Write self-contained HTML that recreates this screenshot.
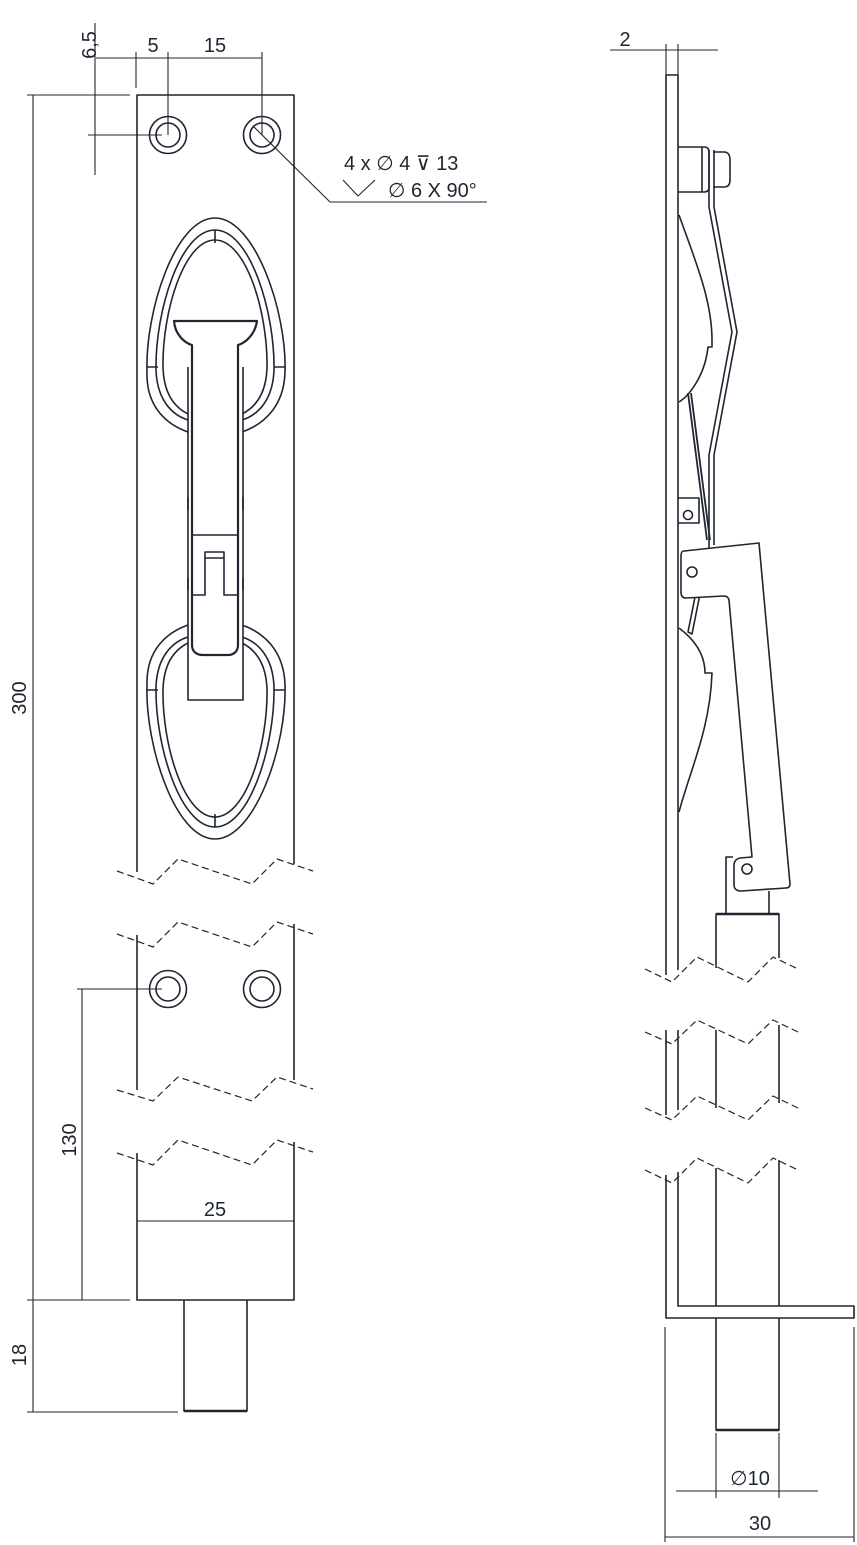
<!DOCTYPE html>
<html><head><meta charset="utf-8"><style>
html,body{margin:0;padding:0;background:#fff;}
svg{display:block;}
text{font-family:"Liberation Sans",sans-serif;fill:#1f2630;}
</style></head><body>
<svg width="857" height="1545" viewBox="0 0 857 1545" xmlns="http://www.w3.org/2000/svg">
<g fill="none" stroke="#1f2630" stroke-width="1.6" stroke-linejoin="round">
<!-- LEFT VIEW plate -->
<path d="M137,872 V95 H294 V864"/>
<path d="M137,1090 V935 M294,1080 V924"/>
<path d="M137,1153 V1300 H294 V1142"/>
<path d="M184,1300 V1411 H247 V1300"/>
<path d="M184,1411 H247" stroke-width="2.4"/>
<!-- holes -->
<circle cx="168" cy="135" r="18.5"/><circle cx="168" cy="135" r="12"/>
<circle cx="262" cy="135" r="18.5"/><circle cx="262" cy="135" r="12"/>
<circle cx="168" cy="989" r="18.5"/><circle cx="168" cy="989" r="12"/>
<circle cx="262" cy="989" r="18.5"/><circle cx="262" cy="989" r="12"/>
<!-- upper egg -->
<g>
<path d="M215,218 C255,218 287,312 285,372 C284,408 262,425 242,432 M188,432 C168,425 146,408 147,372 C145,312 175,218 215,218"/>
<path d="M215,230 C250,230 275,312 274,370 C273,400 258,415 242,420 M188,420 C172,415 157,400 156,370 C155,312 180,230 215,230"/>
<path d="M215,240 C246,240 268,312 267,368 C266,396 254,408 242,414 M188,414 C176,408 164,396 163,368 C162,312 184,240 215,240"/>
<path d="M215,230 V243 M147,367 H158 M274,367 H285"/>
</g>
<!-- lower egg (mirror) -->
<g transform="translate(0,1057) scale(1,-1)">
<path d="M215,218 C255,218 287,312 285,372 C284,408 262,425 242,432 M188,432 C168,425 146,408 147,372 C145,312 175,218 215,218"/>
<path d="M215,230 C250,230 275,312 274,370 C273,400 258,415 242,420 M188,420 C172,415 157,400 156,370 C155,312 180,230 215,230"/>
<path d="M215,240 C246,240 268,312 267,368 C266,396 254,408 242,414 M188,414 C176,408 164,396 163,368 C162,312 184,240 215,240"/>
<path d="M215,230 V243 M147,367 H158 M274,367 H285"/>
</g>
<!-- handle -->
<path d="M188,367 V700 H243 V367" fill="#fff"/>
<path d="M188,497 V510 M243,497 V510 M188,578 V590 M243,578 V590"/>
<path d="M174,321 H257 C255,335 245,343 238,345 V645 C238,652 233,655 228,655 H203 C197,655 192,652 192,645 V345 C185,343 175,335 174,321Z" fill="#fff" stroke-width="2.2"/>
<path d="M192,535 H238"/>
<path d="M192,595 H205 V552 H224 V595 H238"/>
<path d="M205,558 H224"/>
<!-- left breaks -->
<g stroke-dasharray="7,4" stroke-width="1.2">
<path d="M117,871 L153,884 L178,859 L252,884 L277,859 L313,871"/>
<path d="M117,934 L153,947 L178,922 L252,947 L277,922 L313,934"/>
<path d="M117,1090 L153,1101 L178,1077 L252,1101 L277,1077 L313,1089"/>
<path d="M117,1153 L153,1165 L178,1140 L252,1165 L277,1140 L313,1152"/>
</g>
<!-- left dims -->
<g stroke-width="1.1">
<path d="M33,95 V1412 M27,95 H130 M27,1300 H130 M27,1412 H178"/>
<path d="M82,989 V1300 M77,989 H162"/>
<path d="M137,1221 H294"/>
<path d="M95,23 V175 M96,58 H262 M136,52 V88 M168,52 V135 M262,52 V135 M88,135 H162"/>
<path d="M253,126 L330,202 H487"/>
<path d="M343,180 L358,196 L375,180"/>
</g>
<!-- RIGHT VIEW -->
<path d="M666,975 V75 H678 V970"/>
<path d="M666,1045 V1030 M678,1040 V1030 M666,1115 V1040 M678,1110 V1040"/>
<path d="M666,1175 V1318 H854 V1306 H678 V1172"/>
<path d="M716,1045 V1030 M716,1108 V1030 M779,1040 V1025 M779,1103 V1025"/>
<path d="M716,1168 V1306 M779,1160 V1306 M716,1318 V1430 H779 V1318"/>
<path d="M716,1430 H779" stroke-width="2.4"/>
<path d="M716,968 V914 H779 V958"/>
<path d="M716,914 H779" stroke-width="2.6"/>
<path d="M726,914 V857 H733 M769,914 V891"/>
<!-- knob -->
<path d="M678,147 H704 Q709,147 709,152 V187 Q709,192 704,192 H678 M702,147 V192"/>
<path d="M713,152 H724 Q730,152 730,160 V180 Q730,187 724,187 H713"/>
<!-- spring -->
<path d="M709,150 V207 L732,332 L709,455 V550 M714,150 V207 L737,332 L714,455 V545" fill="#fff"/>
<!-- curved shapes -->
<path d="M679,215 C695,260 712,300 712,340 V347 H708 C705,375 690,395 679,402"/>
<path d="M688,393 L707,540 M691,393 L710,540" stroke-width="1.8"/>
<path d="M678,498 H699 V523 H678"/><circle cx="688" cy="515" r="4.5"/>
<path d="M679,628 C695,640 705,655 705,673 H712 C710,730 690,770 679,812"/>
<path d="M696,592 L688,632 L692,634 L700,594"/>
<!-- lever -->
<path d="M684,551 L759,543 L790,884 Q790,888 786,888 L741,891 Q735,891 734,886 V864 Q735,859 740,858 L752,857 L729,600 Q728,596 724,596 L686,598 Q681,598 681,592 V556 Q681,551 684,551Z" fill="#fff"/>
<circle cx="692" cy="572" r="5"/><circle cx="747" cy="869" r="5"/>
<!-- right breaks -->
<g stroke-dasharray="7,4" stroke-width="1.2">
<path d="M645,969 L672,982 L697,957 L748,982 L773,957 L798,969"/>
<path d="M645,1032 L672,1044 L697,1020 L748,1044 L773,1020 L798,1032"/>
<path d="M645,1108 L672,1120 L697,1096 L748,1120 L773,1096 L798,1108"/>
<path d="M645,1170 L672,1183 L697,1158 L748,1183 L773,1158 L798,1170"/>
</g>
<!-- right dims -->
<g stroke-width="1.1">
<path d="M610,50 H718 M666,44 V75 M678,44 V75"/>
<path d="M716,1433 V1498 M779,1433 V1498 M676,1491 H818"/>
<path d="M665,1327 V1542 M854,1327 V1542 M665,1537 H854"/>
</g>
</g>
<g font-size="20">
<text x="153" y="52" text-anchor="middle">5</text>
<text x="215" y="52" text-anchor="middle">15</text>
<text transform="translate(90,45) rotate(-90)" text-anchor="middle" dy="6">6,5</text>
<text transform="translate(20,698) rotate(-90)" text-anchor="middle" dy="6">300</text>
<text transform="translate(70,1140) rotate(-90)" text-anchor="middle" dy="6">130</text>
<text transform="translate(20,1355) rotate(-90)" text-anchor="middle" dy="6">18</text>
<text x="215" y="1216" text-anchor="middle">25</text>
<text x="344" y="170">4 x ∅ 4 ⊽ 13</text>
<text x="388" y="197">∅ 6 X 90°</text>
<text x="625" y="46" text-anchor="middle">2</text>
<text x="750" y="1485" text-anchor="middle">∅10</text>
<text x="760" y="1530" text-anchor="middle">30</text>
</g>
</svg>
</body></html>
